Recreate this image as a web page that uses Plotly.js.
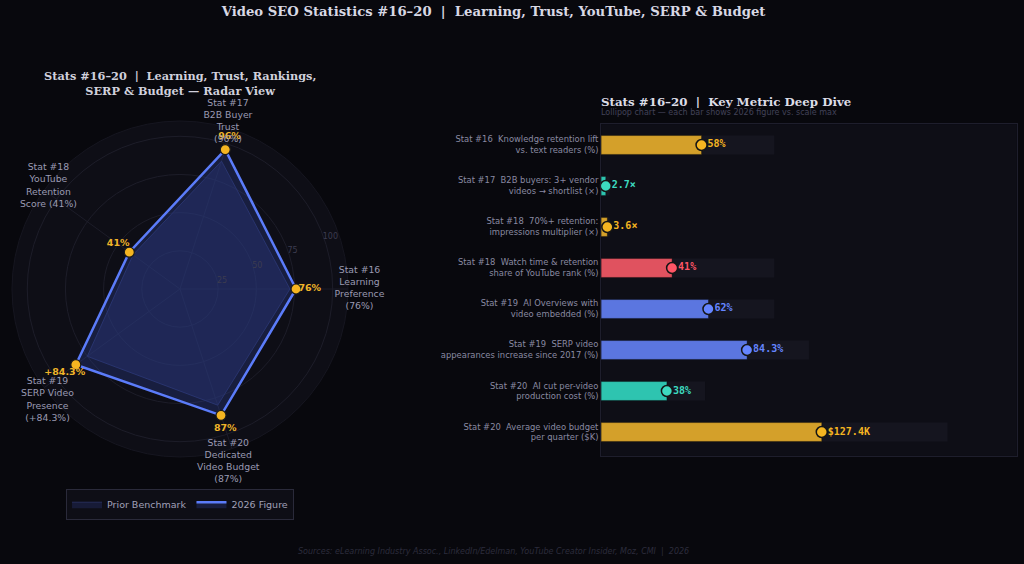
<!DOCTYPE html>
<html>
<head>
<meta charset="utf-8">
<script src="https://cdn.plot.ly/plotly-3.0.1.min.js"></script>
<style>html,body{margin:0;padding:0;background:#08080d;}#chart{width:1024px;height:564px;}</style>
</head>
<body>
<div id="chart"></div>
<script>
// ---------- Radar data ----------
const radarAxes = ["Stat #16", "Stat #17", "Stat #18", "Stat #19", "Stat #20"];
const radarLabels = [
  "Stat #16<br>Learning<br>Preference<br>(76%)",
  "Stat #17<br>B2B Buyer<br>Trust<br>(96%)",
  "Stat #18<br>YouTube<br>Retention<br>Score (41%)",
  "Stat #19<br>SERP Video<br>Presence<br>(+84.3%)",
  "Stat #20<br>Dedicated<br>Video Budget<br>(87%)"
];
const radar2026 = [76, 96, 41, 84.3, 87];
const radarPrior = [72, 88, 38, 75, 80];
const radarValueText = ["76%", "96%", "41%", "+84.3%", "87%"];

// ---------- Lollipop data ----------
const metricLabels = [
  "Stat #16  Knowledge retention lift<br>vs. text readers (%)",
  "Stat #17  B2B buyers: 3+ vendor<br>videos → shortlist (×)",
  "Stat #18  70%+ retention:<br>impressions multiplier (×)",
  "Stat #18  Watch time & retention<br>share of YouTube rank (%)",
  "Stat #19  AI Overviews with<br>video embedded (%)",
  "Stat #19  SERP video<br>appearances increase since 2017 (%)",
  "Stat #20  AI cut per-video<br>production cost (%)",
  "Stat #20  Average video budget<br>per quarter ($K)"
];
const metricValues = [58, 2.7, 3.6, 41, 62, 84.3, 38, 127.4];
const metricScaleMax = [100, 5, 5, 100, 100, 120, 60, 200];
const metricText = ["58%", "2.7×", "3.6×", "41%", "62%", "84.3%", "38%", "$127.4K"];
const metricGroup = ["gold", "teal", "gold", "red", "blue", "blue", "teal", "gold"];

const barColors = {gold: "#d4a02a", teal: "#2ec4b0", red: "#e0525f", blue: "#5b76e0"};
const dotColors = {gold: "#f5b521", teal: "#3ddbc0", red: "#ff5566", blue: "#6585ff"};

const idx = metricValues.map((_, i) => i);
const closeLoop = a => a.concat([a[0]]);
// label placement on the overlay polar (style only)
const labelDist = [179.5, 174, 167, 173, 179.5];
const labelAngleAdj = [0, 2, -2, 4, -2.4];
const labelTheta = radarAxes.map((_, i) => i * 360 / radarAxes.length + labelAngleAdj[i]);

const traces = [
  {
    type: "scatterpolar", name: "Prior Benchmark", subplot: "polar",
    r: closeLoop(radarPrior), theta: closeLoop(radarAxes),
    fill: "toself", fillcolor: "rgba(35,45,95,0.45)",
    line: {color: "rgba(40,48,95,0.9)", width: 1},
    mode: "lines", hoverinfo: "skip"
  },
  {
    type: "scatterpolar", name: "2026 Figure", subplot: "polar",
    r: closeLoop(radar2026), theta: closeLoop(radarAxes),
    fill: "toself", fillcolor: "rgba(50,70,160,0.30)",
    line: {color: "#5b7cfa", width: 2.5},
    mode: "lines", hoverinfo: "skip"
  },
  {
    type: "scatterpolar", showlegend: false, subplot: "polar",
    r: radar2026, theta: radarAxes, mode: "markers",
    marker: {size: 10, color: "#f5b521", line: {color: "#1a1a1a", width: 1.2}},
    hoverinfo: "skip"
  },
  {
    type: "scatterpolar", showlegend: false, cliponaxis: false, subplot: "polar",
    r: radar2026.map(v => v + 9), theta: radarAxes, mode: "text",
    text: radarValueText,
    textfont: {family: "DejaVu Sans", size: 9.5, color: "#f0b429", weight: "bold"},
    hoverinfo: "skip"
  },
  {
    type: "scatterpolar", showlegend: false, cliponaxis: false, subplot: "polar2",
    r: labelDist, theta: labelTheta, thetaunit: "degrees", mode: "text",
    text: radarLabels,
    textfont: {family: "DejaVu Sans", size: 9.3, color: "#9a9ab2"},
    hoverinfo: "skip"
  },
  {
    type: "bar", orientation: "h", x: metricScaleMax, y: idx, width: 0.46,
    marker: {color: "#15151f"}, showlegend: false, hoverinfo: "skip",
    xaxis: "x", yaxis: "y"
  },
  {
    type: "bar", orientation: "h", x: metricValues, y: idx, width: 0.46,
    marker: {color: metricGroup.map(g => barColors[g]), line: {color: "rgba(0,0,0,0.35)", width: 1}},
    showlegend: false, hoverinfo: "skip", xaxis: "x", yaxis: "y"
  },
  {
    type: "scatter", mode: "markers+text", x: metricValues, y: idx,
    text: metricText, textposition: "middle right",
    marker: {size: 8, color: "rgba(0,0,0,0)"},
    textfont: {family: "DejaVu Sans Mono", size: 10, weight: "bold", color: metricGroup.map(g => dotColors[g])},
    showlegend: false, hoverinfo: "skip", cliponaxis: false, xaxis: "x", yaxis: "y"
  },
  {
    type: "scatter", mode: "markers", x: metricValues, y: idx,
    marker: {size: 11, color: metricGroup.map(g => dotColors[g]), line: {color: "#151515", width: 1.5}},
    showlegend: false, hoverinfo: "skip", cliponaxis: false, xaxis: "x", yaxis: "y"
  }
];

const layout = {
  width: 1024, height: 564,
  paper_bgcolor: "#08080d", plot_bgcolor: "#0e0e16",
  margin: {l: 0, r: 0, t: 0, b: 0},
  font: {family: "DejaVu Sans", color: "#9a9ab2"},
  title: {
    text: "Video SEO Statistics #16–20  |  Learning, Trust, YouTube, SERP & Budget",
    x: 0.482, xanchor: "center", y: 0.979, yanchor: "middle",
    font: {family: "DejaVu Serif", size: 13.2, color: "#d8d8e4", weight: "bold"}
  },
  barmode: "overlay",
  polar: {
    domain: {x: [0.0117, 0.3398], y: [0.1897, 0.7855]},
    bgcolor: "#0e0e16",
    radialaxis: {
      range: [0, 110], tickvals: [25, 50, 75, 100], angle: 22.5, tickangle: 22.5,
      showline: false, ticks: "", gridcolor: "#1d1d29",
      tickfont: {size: 8, color: "#3c3c50"}
    },
    angularaxis: {
      rotation: 0, direction: "counterclockwise",
      gridcolor: "#1d1d29", linecolor: "#161620", showticklabels: false, ticks: ""
    }
  },
  polar2: {
    domain: {x: [0, 0.3516], y: [0.1684, 0.8067]},
    bgcolor: "rgba(0,0,0,0)",
    radialaxis: {range: [0, 180], visible: false, showgrid: false},
    angularaxis: {
      type: "linear", thetaunit: "degrees", rotation: 0, direction: "counterclockwise",
      showgrid: false, showline: false, showticklabels: false, ticks: ""
    }
  },
  xaxis: {
    domain: [0.587, 0.993], range: [0, 240], anchor: "y",
    showgrid: false, zeroline: false, showticklabels: false,
    showline: true, mirror: true, linecolor: "#1e1e2c", linewidth: 1, fixedrange: true
  },
  yaxis: {
    domain: [0.1915, 0.780], range: [7.585, -0.51], anchor: "x",
    tickvals: idx, ticktext: metricLabels, ticks: "",
    showgrid: false, zeroline: false,
    showline: true, mirror: true, linecolor: "#1e1e2c", linewidth: 1,
    tickfont: {family: "DejaVu Sans", size: 8.4, color: "#8a8aa2"}, fixedrange: true
  },
  showlegend: true,
  legend: {
    orientation: "h", x: 0.1758, xanchor: "center", y: 0.106, yanchor: "middle",
    bgcolor: "#0e0e16", bordercolor: "#2a2a3a", borderwidth: 1,
    font: {family: "DejaVu Sans", size: 9.5, color: "#a0a0b8"}
  },
  annotations: [
    {
      text: "<b>Stats #16–20  |  Learning, Trust, Rankings,<br>SERP & Budget — Radar View</b>",
      xref: "paper", yref: "paper", x: 0.1758, y: 0.852, xanchor: "center", yanchor: "middle",
      showarrow: false, font: {family: "DejaVu Serif", size: 11.3, color: "#d0d0dc"}
    },
    {
      text: "<b>Stats #16–20  |  Key Metric Deep Dive</b>",
      xref: "paper", yref: "paper", x: 0.587, y: 0.819, xanchor: "left", yanchor: "middle",
      showarrow: false, xshift: -2, font: {family: "DejaVu Serif", size: 11.8, color: "#dcdce6"}
    },
    {
      text: "Lollipop chart — each bar shows 2026 figure vs. scale max",
      xref: "paper", yref: "paper", x: 0.587, y: 0.801, xanchor: "left", yanchor: "middle",
      showarrow: false, xshift: -2, font: {family: "DejaVu Sans", size: 8, color: "#424258"}
    },
    {
      text: "<i>Sources: eLearning Industry Assoc., LinkedIn/Edelman, YouTube Creator Insider, Moz, CMI  |  2026</i>",
      xref: "paper", yref: "paper", x: 0.482, y: 0.0213, xanchor: "center", yanchor: "middle",
      showarrow: false, font: {family: "DejaVu Sans", size: 8, color: "#2c2c3c"}
    }
  ]
};

Plotly.newPlot("chart", traces, layout, {displayModeBar: false, staticPlot: true});
</script>
</body>
</html>
